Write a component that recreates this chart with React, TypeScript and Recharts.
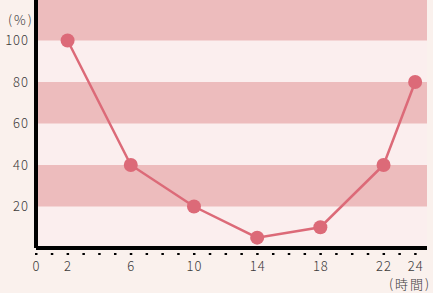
import { LineChart, Line, XAxis, YAxis, ReferenceArea } from "recharts";

const hours = [2, 6, 10, 14, 18, 22, 24];
const percents = [100, 40, 20, 5, 10, 40, 80];
const xTicks = Array.from({ length: 25 }, (_, i) => i);
const xLabels = [0, 2, 6, 10, 14, 18, 22, 24];
const yTicks = [20, 40, 60, 80, 100];
const bands = [0, 20, 40, 60, 80, 100];

const data = hours.map((h, i) => ({ hour: h, value: percents[i] }));

const FONT = "'Noto Sans CJK JP', 'Noto Sans', sans-serif";
const TEXT = "#3a3a3a";
const LINE = "#dc6a78";

function HourTick(props: any) {
  const { x, y, payload } = props;
  const show = xLabels.includes(payload.value);
  return (
    <g>
      <rect x={x - 1} y={y + 3} width={2.5} height={2} fill="#000" />
      {show && (
        <text
          x={x + 0.5}
          y={y + 21}
          textAnchor="middle"
          fontSize={13}
          fontWeight={300}
          letterSpacing={1}
          fontFamily={FONT}
          fill={TEXT}
        >
          {payload.value}
        </text>
      )}
    </g>
  );
}

export default function App() {
  document.body.style.margin = "0";
  return (
    <div
      style={{
        position: "relative",
        width: 433,
        height: 293,
        background: "#faf1ed",
        fontFamily: FONT,
        fontWeight: 300,
        color: TEXT,
      }}
    >
      <LineChart
        width={433}
        height={293}
        data={data}
        margin={{ top: -1, right: 6, left: 0, bottom: 0 }}
      >
        {bands.map((b, i) => (
          <ReferenceArea
            key={b}
            y1={b}
            y2={b + 20}
            x1={0}
            x2={24.75}
            fill={i % 2 === 0 ? "#fbeeee" : "#edbcbd"}
            fillOpacity={1}
            stroke="none"
            ifOverflow="visible"
          />
        ))}
        <XAxis
          type="number"
          dataKey="hour"
          domain={[0, 24.75]}
          ticks={xTicks}
          interval={0}
          height={45}
          tickLine={false}
          tickSize={0}
          tick={<HourTick />}
          axisLine={{ stroke: "#000", strokeWidth: 4 }}
        />
        <YAxis
          type="number"
          domain={[0, 120]}
          ticks={yTicks}
          width={36}
          tickLine={false}
          tickSize={0}
          tickMargin={7}
          tick={{
            fontSize: 13,
            fill: TEXT,
            fontFamily: FONT,
            fontWeight: 300,
            letterSpacing: 1,
          }}
          axisLine={{ stroke: "#000", strokeWidth: 4 }}
        />
        <Line
          type="linear"
          dataKey="value"
          stroke={LINE}
          strokeWidth={2.5}
          dot={{ r: 7, fill: LINE, stroke: "none" }}
          isAnimationActive={false}
        />
      </LineChart>
      <div
        style={{
          position: "absolute",
          left: 8,
          top: 10,
          fontSize: 13,
          letterSpacing: 2,
        }}
      >
        (%)
      </div>
      <div
        style={{
          position: "absolute",
          left: 389,
          top: 274,
          fontSize: 13,
          letterSpacing: 2,
          whiteSpace: "nowrap",
        }}
      >
        (時間)
      </div>
    </div>
  );
}
